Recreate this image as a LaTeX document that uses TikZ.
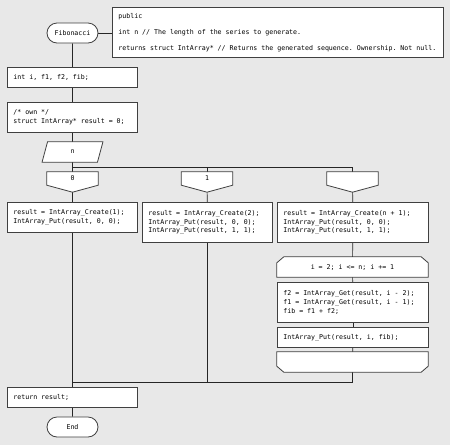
\documentclass[tikz,border=0pt]{standalone}
\usepackage{fontspec}
\setmonofont{DejaVu Sans Mono}[WordSpace={1,0,0}]
\usetikzlibrary{positioning,calc,backgrounds}
\definecolor{bgc}{HTML}{E8E8E8}
\definecolor{edge}{HTML}{404040}
\tikzset{
  line/.style={draw=black!85,line width=0.7pt},
}

\begin{document}
\begin{tikzpicture}[
  x=1pt,y=-1pt,
  every node/.style={font=\ttfamily\fontsize{6.6}{8.6}\selectfont},
  box/.style={draw=edge,fill=white,line width=0.8pt,anchor=north west,
    inner xsep=6pt,inner ysep=2pt,align=left,
    execute at begin node={\spaceskip=0.602em\xspaceskip=0.602em\relax}},
  act/.style={box,text width=#1},
  term/.style={draw=edge,fill=white,line width=0.8pt,rounded corners=10pt,
    minimum width=51pt,minimum height=20pt,inner sep=0pt},
  frame/.style={minimum height=#1,inner sep=0pt},
  outline/.style={draw=edge,fill=white,line width=0.8pt}
]
\useasboundingbox (0,0) rectangle (450,445);

\node[term] (start) at (72.5,33) {Fibonacci};
\node[act=319pt,minimum height=50pt] (cmt) at (112,7)
  {public\\[8.2pt]int n // The length of the series to generate.\\[7pt]returns struct IntArray* // Returns the generated sequence. Ownership. Not null.};

\node[act=118pt,minimum height=20pt] (decl) at (7,67) {int i, f1, f2, fib;};
\node[act=118pt,minimum height=30pt] (init) at (7,102) {/* own */\\struct IntArray* result = 0;};

\node[frame=20pt,minimum width=55pt] (inp) at (72.5,152) {};
\draw[outline] ([xshift=2.75pt]inp.north west) -- ([xshift=2.75pt]inp.north east)
  -- ([xshift=-2.75pt]inp.south east) -- ([xshift=-2.75pt]inp.south west) -- cycle;
\node at (inp) {n};

% select branches
\node[frame=13pt,minimum width=51pt] (sel0) at (72.5,178.5) {};
\node[frame=13pt,minimum width=51pt] (sel1) at (207,178.5) {};
\node[frame=13pt,minimum width=51pt] (sel2) at (352.5,178.5) {};
\foreach \s in {sel0,sel1,sel2}
  \draw[outline] (\s.north west) -- (\s.north east) -- (\s.south east)
    -- ([yshift=-7pt]\s.south) -- (\s.south west) -- cycle;
\node at (sel0) {0};
\node at (sel1) {1};

\node[act=118pt,minimum height=30pt] (act0) at (7,202)
  {result = IntArray\_Create(1);\\IntArray\_Put(result, 0, 0);};
\node[act=118pt,minimum height=40pt] (act1) at (142,202)
  {result = IntArray\_Create(2);\\IntArray\_Put(result, 0, 0);\\IntArray\_Put(result, 1, 1);};
\node[act=139pt,minimum height=40pt] (act2) at (277,202)
  {result = IntArray\_Create(n + 1);\\IntArray\_Put(result, 0, 0);\\IntArray\_Put(result, 1, 1);};

% loop
\node[frame=20pt,minimum width=151pt] (lbeg) at (352.5,267) {};
\draw[outline] (lbeg.south west) -- ([yshift=-6pt]lbeg.north west) -- ([xshift=7pt]lbeg.north west)
  -- ([xshift=-7pt]lbeg.north east) -- ([yshift=-6pt]lbeg.north east) -- (lbeg.south east) -- cycle;
\node at (lbeg) {i = 2; i <= n; i += 1};

\node[act=139pt,minimum height=40pt] (body) at (277,282)
  {f2 = IntArray\_Get(result, i - 2);\\f1 = IntArray\_Get(result, i - 1);\\fib = f1 + f2;};
\node[act=139pt,minimum height=20pt] (put) at (277,327) {IntArray\_Put(result, i, fib);};

\node[frame=20pt,minimum width=151pt] (lend) at (352.5,362) {};
\draw[outline] (lend.north west) -- (lend.north east) -- ([yshift=6pt]lend.south east)
  -- ([xshift=-7pt]lend.south east) -- ([xshift=7pt]lend.south west) -- ([yshift=6pt]lend.south west) -- cycle;

\node[act=118pt,minimum height=20pt] (ret) at (7,387) {return result;};
\node[term] (fin) at (72.5,427) {End};

\coordinate (fork) at (72.5,167);
\coordinate (merge) at (72.5,382);

\begin{scope}[on background layer]
\fill[bgc] (0,0) rectangle (450,445);
\draw[line] (start) -- (start -| cmt.west);
\draw[line] (start) -- (decl);
\draw[line] (decl) -- (init);
\draw[line] (init) -- (inp);
\draw[line] (inp) -- (sel0);
\draw[line] (fork) -| (sel2);
\draw[line] (sel1 |- fork) -- (sel1);
\draw[line] (sel0) -- (act0);
\draw[line] (sel1) -- (act1);
\draw[line] (sel2) -- (act2);
\draw[line] (act0) -- (ret);
\draw[line] (act1) -- (act1 |- merge);
\draw[line] (act2) -- (lbeg);
\draw[line] (lbeg) -- (body);
\draw[line] (body) -- (put);
\draw[line] (put) -- (lend);
\draw[line] (lend) |- (merge);
\draw[line] (ret) -- (fin);
\end{scope}

\end{tikzpicture}
\end{document}
